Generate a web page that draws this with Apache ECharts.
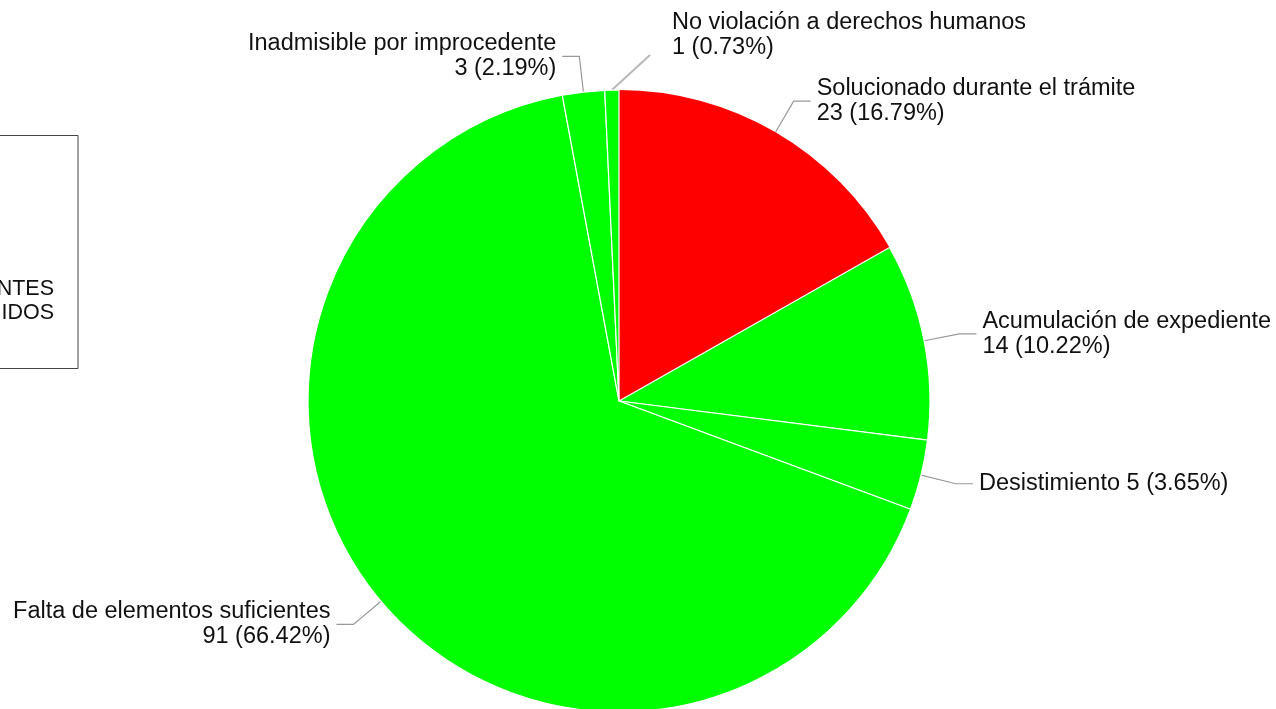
<!DOCTYPE html>
<html>
<head>
<meta charset="utf-8">
<script src="https://cdn.jsdelivr.net/npm/echarts@6/dist/echarts.min.js"></script>
<style>
html,body{margin:0;padding:0;background:#fff;}
#chart{width:1276px;height:709px;}
</style>
</head>
<body>
<div id="chart"></div>
<script>
const categories = [
  'Solucionado durante el trámite',
  'Acumulación de expediente',
  'Desistimiento',
  'Falta de elementos suficientes',
  'Inadmisible por improcedente',
  'No violación a derechos humanos'
];
const values = [23, 14, 5, 91, 3, 1];
const sliceColors = ['#ff0000', '#00ff00', '#00ff00', '#00ff00', '#00ff00', '#00ff00'];
const boxTitle = 'EXPEDIENTES\nCONCLUIDOS';

const chart = echarts.init(document.getElementById('chart'), null, {renderer: 'canvas'});

const data = categories.map((name, i) => ({
  name: name,
  value: values[i],
  itemStyle: {color: sliceColors[i], borderWidth: i === 0 ? 0 : 1.2, borderColor: '#ffffff'},
  labelLine: i === 5 ? {lineStyle: {color: '#b8b8b8', width: 2}} : undefined
}));

const option = {
  backgroundColor: '#ffffff',
  animation: false,
  graphic: [
    {
      type: 'rect',
      shape: {x: -300, y: 135.5, width: 378, height: 233},
      style: {fill: '#ffffff', stroke: '#444444', lineWidth: 1}
    },
    {
      type: 'text',
      x: 54, y: 277,
      style: {
        text: boxTitle,
        fill: '#111111',
        font: '21.5px "Liberation Sans", Arial, sans-serif',
        align: 'right',
        verticalAlign: 'top',
        lineHeight: 24
      }
    }
  ],
  series: [{
    type: 'pie',
    center: [619, 401],
    radius: 311,
    startAngle: 90,
    clockwise: true,
    percentPrecision: 2,
    avoidLabelOverlap: false,
    data: data,
    label: {
      show: true,
      position: 'outside',
      color: '#111111',
      fontSize: 23.5,
      lineHeight: 25,
      fontFamily: '"Liberation Sans", Arial, sans-serif',
      distanceToLabelLine: 6,
      formatter: function (p) {
        const sep = p.name.length > 15 ? '\n' : ' ';
        return p.name + sep + p.value + ' (' + p.percent.toFixed(2) + '%)';
      }
    },
    labelLine: {
      show: true,
      length: 36,
      length2: 17,
      lineStyle: {color: '#999999', width: 1.2}
    },
    labelLayout: function (params) {
      if (params.dataIndex === 5) {
        const lx = 672, ly = 35;
        const anchor = params.labelLinePoints ? params.labelLinePoints[0] : [608, 95];
        const end = [lx - 22, ly + 20];
        return {
          x: lx, y: ly, align: 'left', verticalAlign: 'middle',
          labelLinePoints: [anchor, end, end]
        };
      }
    }
  }]
};
chart.setOption(option);
</script>
</body>
</html>
